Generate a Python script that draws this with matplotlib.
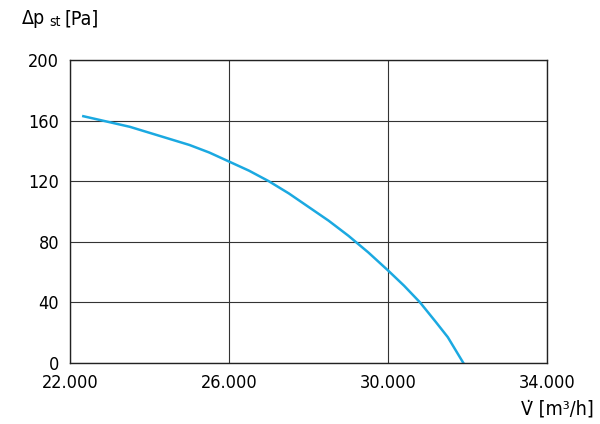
import numpy as np
import matplotlib
matplotlib.use('Agg')
import matplotlib.pyplot as plt
from matplotlib.ticker import FuncFormatter

plt.rcParams['font.family'] = ['DejaVu Sans']
plt.rcParams['font.stretch'] = 'condensed'

flow = [22330, 23000, 23500, 24000, 24500, 25000, 25500, 26000, 26500, 27000,
        27500, 28000, 28500, 29000, 29500, 30000, 30400, 30800, 31200, 31500, 31890]
pressure = [163, 159, 156, 152, 148, 144, 139, 133, 127, 120,
            112, 103, 94, 84, 73, 61, 51, 40, 27, 17, 0]

xticks = [22000, 26000, 30000, 34000]
yticks = [0, 40, 80, 120, 160, 200]

fig = plt.figure(figsize=(6, 4.24), dpi=100)
ax = fig.add_axes([0.117, 0.144, 0.795, 0.714])
ax.plot(flow, pressure, color='#1ba9e1', lw=1.8)
ax.set_xlim(22000, 34000)
ax.set_ylim(0, 200)
ax.set_xticks(xticks)
ax.set_yticks(yticks)
ax.xaxis.set_major_formatter(FuncFormatter(lambda v, p: f'{int(v):,}'.replace(',', '.')))
ax.grid(True, color='#333333', lw=0.8)
ax.tick_params(labelsize=13, length=0, pad=8)
for s in ax.spines.values():
    s.set_color('#222222')
    s.set_linewidth(1)

fig.text(0.035, 0.955, r'$\Delta$p', fontsize=14, va='center')
fig.text(0.082, 0.948, 'st', fontsize=10, va='center')
fig.text(0.108, 0.955, '[Pa]', fontsize=14, va='center')
fig.text(0.99, 0.035, 'V\u0307 [m\u00b3/h]', fontsize=14, ha='right', va='center')

plt.savefig('out.png', dpi=100)
